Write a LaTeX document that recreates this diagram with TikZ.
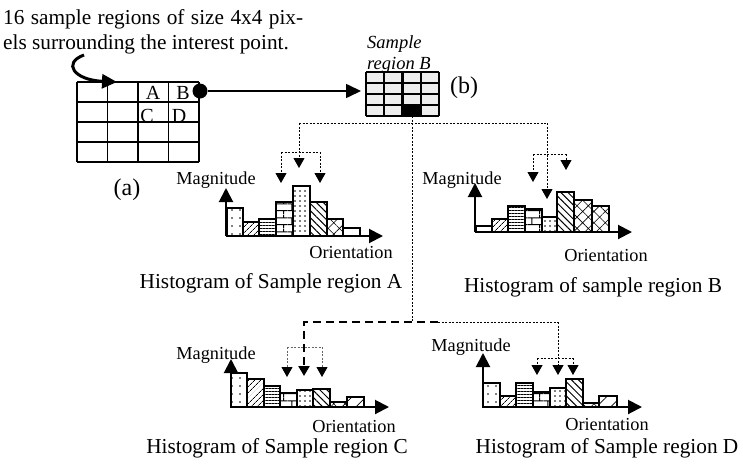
\documentclass[tikz,border=0pt]{standalone}
\usepackage{fontspec}
\setmainfont{Liberation Serif}
\usetikzlibrary{arrows.meta,patterns,patterns.meta}

% large brick fill for the histogram bars
\pgfdeclarepatternformonly{bigbricks}{\pgfqpoint{0pt}{0pt}}{\pgfqpoint{16pt}{14pt}}{\pgfqpoint{16pt}{14pt}}{
  \pgfsetlinewidth{1pt}
  \pgfpathmoveto{\pgfqpoint{0pt}{3.5pt}}\pgfpathlineto{\pgfqpoint{16pt}{3.5pt}}
  \pgfpathmoveto{\pgfqpoint{0pt}{10.5pt}}\pgfpathlineto{\pgfqpoint{16pt}{10.5pt}}
  \pgfpathmoveto{\pgfqpoint{4pt}{3.5pt}}\pgfpathlineto{\pgfqpoint{4pt}{10.5pt}}
  \pgfpathmoveto{\pgfqpoint{12pt}{10.5pt}}\pgfpathlineto{\pgfqpoint{12pt}{14pt}}
  \pgfpathmoveto{\pgfqpoint{12pt}{0pt}}\pgfpathlineto{\pgfqpoint{12pt}{3.5pt}}
  \pgfusepath{stroke}}

\tikzset{
  captext/.style={font=\fontsize{21.3}{24}\selectfont, inner sep=0pt},
  axlabel/.style={font=\fontsize{18.3}{20}\selectfont, inner sep=0pt},
  celltext/.style={font=\fontsize{20}{22}\selectfont, inner sep=0pt},
  itltext/.style={font=\fontsize{18.5}{20}\selectfont\itshape, inner sep=0pt},
  partext/.style={font=\fontsize{24}{26}\selectfont, inner sep=0pt},
  histaxis/.style={line width=2pt, -{Triangle[length=14pt,width=14pt]}},
  histbar/.style={draw, line width=1.8pt},
  pdots/.style={pattern={Dots[distance=8pt,radius=0.8pt]}},
  pdense/.style={pattern={Dots[distance=5pt,radius=0.8pt]}},
  pne/.style={pattern={Lines[angle=45,distance=4pt,line width=0.7pt]}},
  pnes/.style={pattern={Lines[angle=45,distance=10pt,line width=0.7pt]}},
  phor/.style={pattern={Lines[angle=0,distance=3pt,line width=1pt]}},
  pbrick/.style={pattern=bigbricks},
  pnw/.style={pattern={Lines[angle=-45,distance=5pt,line width=1pt]}},
  pcross/.style={pattern={Hatch[angle=45,distance=8pt,line width=0.6pt]}},
  pplain/.style={fill=white},
  linkline/.style={line width=1pt, dash pattern=on 2pt off 1.5pt},
  linkarrow/.style={linkline, -{Triangle[length=10pt,width=11pt,black]}},
  greylink/.style={linkarrow, draw=black!60},
  heavylink/.style={line width=2.4pt, dash pattern=on 8pt off 5pt},
}

\begin{document}
\begin{tikzpicture}[x=1pt,y=-1pt]
\useasboundingbox (0,0) rectangle (743,466);
\fill[white] (0,0) rectangle (743,466);

% introductory text
\node[captext, anchor=base west] (intro1) at (3,24) {\makebox[300pt][s]{16 sample regions of size 4x4 pix-}};
\node[captext, anchor=base west] (intro2) at (3,49) {els surrounding the interest point.};

% grid (a): 4x4 sample regions
\foreach \x in {77,107.5,138,168.5,199} \draw[line width=1.8pt] (\x,82) -- (\x,162);
\foreach \y in {82,102,122,142,162} \draw[line width=1.8pt] (77,\y) -- (199,\y);
\coordinate (gridA) at (117,82);
\node[celltext] (lA) at (153,93) {A};
\node[celltext] (lB) at (183,93) {B};
\node[celltext] (lC) at (147,116) {C};
\node[celltext] (lD) at (179,116) {D};
\node[partext] (capa) at (127,190) {(a)};

% curved pointer from the text to the grid
\coordinate (crvS) at (84,55);
\draw[line width=3pt, -{Triangle[length=15pt,width=14pt]}] (crvS) .. controls (62,63) and (74,80) .. (gridA);

% interest point and arrow to sample region B
\node[circle, fill=black, minimum size=15pt, inner sep=0pt] (pt) at (200,91) {};
\coordinate (bIn) at (361,91);
\draw[line width=1.6pt, -{Triangle[length=15pt,width=14pt]}] (pt) -- (bIn);

% grid (b): sample region B
\fill[black!7] (366,72) rectangle (439,116);
\fill[black] (403,105) rectangle (421,116);
\foreach \x in {366,384.25,402.5,420.75,439} \draw[line width=2.2pt] (\x,72) -- (\x,116);
\foreach \y in {72,83,94,105,116} \draw[line width=2.2pt] (366,\y) -- (439,\y);
\node[itltext, anchor=base west] (smp1) at (367,48) {Sample};
\node[itltext, anchor=base west] (smp2) at (367,69) {region B};
\node[partext] (capb) at (464,88) {(b)};

% distribution of the gradient samples
\coordinate (bOut) at (412,116);
\coordinate (jL) at (299,123);
\coordinate (jR) at (547,123);
\coordinate (jBot) at (412,322);
\draw[linkline] (bOut) -- (jBot);
\draw[linkline] (jL) -- (jR);

% connectors to histogram A
\coordinate (aM) at (299,168);
\coordinate (aL0) at (281,152); \coordinate (aL) at (281,183);
\coordinate (aR0) at (320,152); \coordinate (aR) at (320,183);
\draw[linkarrow] (jL) -- (aM);
\draw[linkline] (aL0) -- (aR0);
\draw[linkarrow] (aL0) -- (aL);
\draw[linkarrow] (aR0) -- (aR);

% connectors to histogram B
\coordinate (bM) at (547,199);
\coordinate (bL0) at (533,154); \coordinate (bL) at (533,182);
\coordinate (bR0) at (566,154); \coordinate (bR) at (566,170);
\draw[linkarrow] (jR) -- (bM);
\draw[linkline] (bL0) -- (bR0);
\draw[linkarrow] (bL0) -- (bL);
\draw[linkarrow] (bR0) -- (bR);

% connectors to histograms C and D
\coordinate (cTop) at (304,322);
\coordinate (cBend) at (304,367);
\coordinate (cM) at (304,376);
\coordinate (mid) at (438,322);
\coordinate (dTop) at (558,322);
\coordinate (dM) at (558,375);
\draw[heavylink] (mid) -- (cTop) -- (cBend);
\draw[line width=2.4pt, -{Triangle[length=10pt,width=11pt]}] (cBend) -- (cM);
\draw[linkline] (mid) -- (dTop);
\draw[linkarrow] (dTop) -- (dM);
\coordinate (cL0) at (287,347); \coordinate (cL) at (287,377);
\coordinate (cR0) at (322,347); \coordinate (cR) at (322,377);
\draw[linkline, draw=black!60] (cL0) -- (cR0);
\draw[greylink] (cL0) -- (cL);
\draw[greylink] (cR0) -- (cR);
\coordinate (dL0) at (537,358); \coordinate (dL) at (537,375);
\coordinate (dR0) at (573,358); \coordinate (dR) at (573,375);
\draw[linkline] (dL0) -- (dR0);
\draw[linkarrow] (dL0) -- (dL);
\draw[linkarrow] (dR0) -- (dR);

% histogram A
\foreach \a/\b/\t/\p in {227/243/208/pdots,243/259/222/pne,259/276/219/phor,276/293/202/pbrick,293/310/186/pdense,310/327/202/pnw,327/343/219/pcross,343/360/228/pplain}
  \draw[histbar,\p] (\a,236) rectangle (\b,\t);
\coordinate (oA) at (226,236);
\draw[histaxis] (oA) -- (226,188);
\draw[histaxis] (oA) -- (383,236);
\node[axlabel] (magA) at (216,180) {Magnitude};
\node[axlabel] (oriA) at (351,253) {Orientation};
\node[captext] (histA) at (271,283) {Histogram of Sample region A};

% histogram B
\foreach \a/\b/\t/\p in {476/492/226/pdots,492/508/219/pne,508/525/206/phor,525/542/209/pbrick,542/557/217/pdense,557/574/192/pnw,574/592/200/pcross,592/609/206/pcross}
  \draw[histbar,\p] (\a,232) rectangle (\b,\t);
\coordinate (oB) at (475,232);
\draw[histaxis] (oB) -- (475,183);
\draw[histaxis] (oB) -- (632,232);
\node[axlabel] (magB) at (462,180) {Magnitude};
\node[axlabel] (oriB) at (606,256) {Orientation};
\node[captext] (histB) at (593,287) {Histogram of sample region B};

% histogram C
\foreach \a/\b/\t/\p in {231/247/373/pdots,247/264/379/pne,264/280/386/phor,280/297/393/pbrick,297/313/390/pdense,313/330/389/pnw,330/347/402/pcross,347/364/397/pnes}
  \draw[histbar,\p] (\a,407) rectangle (\b,\t);
\coordinate (oC) at (231,407);
\draw[histaxis] (oC) -- (231,359);
\draw[histaxis] (oC) -- (389,407);
\node[axlabel] (magC) at (216,355) {Magnitude};
\node[axlabel] (oriC) at (354,427) {Orientation};
\node[captext] (histC) at (277,448) {Histogram of Sample region C};

% histogram D
\foreach \a/\b/\t/\p in {483/500/383/pdots,500/516/396/pne,516/533/383/phor,533/550/392/pbrick,550/566/388/pdense,566/583/379/pnw,583/599/403/pcross,599/617/396/pnes}
  \draw[histbar,\p] (\a,407) rectangle (\b,\t);
\coordinate (oD) at (483,407);
\draw[histaxis] (oD) -- (483,353);
\draw[histaxis] (oD) -- (642,407);
\node[axlabel] (magD) at (471,347) {Magnitude};
\node[axlabel] (oriD) at (607,425) {Orientation};
\node[captext] (histD) at (607,448) {Histogram of Sample region D};
\end{tikzpicture}
\end{document}
